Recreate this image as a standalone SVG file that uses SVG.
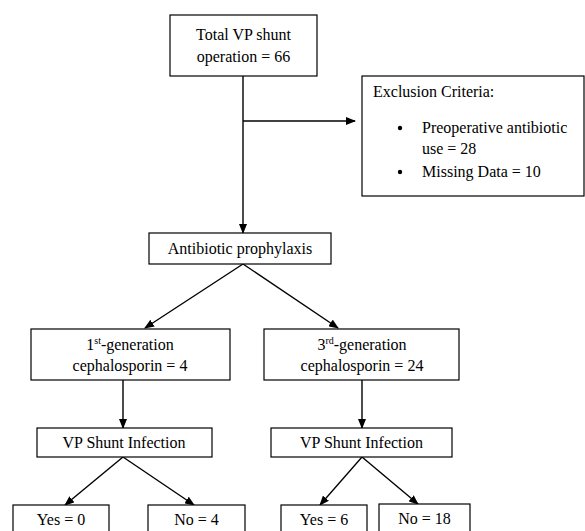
<svg xmlns="http://www.w3.org/2000/svg" width="585" height="531" viewBox="0 0 585 531">
<style>
  .box{fill:#fff;stroke:#000;stroke-width:1.2}
  .t{font-family:"Liberation Serif","Times New Roman",serif;font-size:16px;fill:#000}
  .c{text-anchor:middle}
  .con{stroke:#000;stroke-width:1.4;fill:none}
</style>
<defs>
  <marker id="ah" markerUnits="userSpaceOnUse" markerWidth="10" markerHeight="8" refX="9" refY="4" orient="auto">
    <path d="M0,0 L10,4 L0,8 Z" fill="#000"/>
  </marker>
</defs>
<rect width="585" height="531" fill="#fff"/>
<g id="connectors">
  <line class="con" x1="243" y1="76" x2="243" y2="233" marker-end="url(#ah)"/>
  <line class="con" x1="243" y1="121" x2="355" y2="121" marker-end="url(#ah)"/>
  <line class="con" x1="243" y1="264" x2="145" y2="328" marker-end="url(#ah)"/>
  <line class="con" x1="243" y1="264" x2="338" y2="328" marker-end="url(#ah)"/>
  <line class="con" x1="123" y1="380" x2="123" y2="428" marker-end="url(#ah)"/>
  <line class="con" x1="362" y1="380" x2="362" y2="428" marker-end="url(#ah)"/>
  <line class="con" x1="123" y1="457" x2="65" y2="505" marker-end="url(#ah)"/>
  <line class="con" x1="123" y1="457" x2="194" y2="505" marker-end="url(#ah)"/>
  <line class="con" x1="362" y1="457" x2="320" y2="505" marker-end="url(#ah)"/>
  <line class="con" x1="362" y1="457" x2="418" y2="504" marker-end="url(#ah)"/>
</g>
<g id="total">
  <rect class="box" x="170" y="15" width="147" height="61"/>
  <text class="t c" x="243.5" y="40">Total VP shunt</text>
  <text class="t c" x="243.5" y="62">operation = 66</text>
</g>
<g id="exclusion">
  <rect class="box" x="362" y="76" width="222" height="120"/>
  <text class="t" x="373" y="97">Exclusion Criteria:</text>
  <circle cx="400" cy="128" r="2.2" fill="#000"/>
  <text class="t" x="422" y="133">Preoperative antibiotic</text>
  <text class="t" x="422" y="154">use = 28</text>
  <circle cx="400" cy="172" r="2.2" fill="#000"/>
  <text class="t" x="422" y="177">Missing Data = 10</text>
</g>
<g id="prophylaxis">
  <rect class="box" x="149" y="233" width="182" height="31"/>
  <text class="t c" x="240" y="254">Antibiotic prophylaxis</text>
</g>
<g id="gen1">
  <rect class="box" x="31" y="329" width="199" height="51"/>
  <text class="t c" x="130" y="350">1<tspan font-size="10" dy="-6">st</tspan><tspan dy="6">-generation</tspan></text>
  <text class="t c" x="130" y="371">cephalosporin = 4</text>
</g>
<g id="gen3">
  <rect class="box" x="264" y="329" width="195" height="51"/>
  <text class="t c" x="362" y="350">3<tspan font-size="10" dy="-6">rd</tspan><tspan dy="6">-generation</tspan></text>
  <text class="t c" x="362" y="371">cephalosporin = 24</text>
</g>
<g id="vp1">
  <rect class="box" x="37" y="428" width="175" height="29"/>
  <text class="t c" x="124" y="448">VP Shunt Infection</text>
</g>
<g id="vp2">
  <rect class="box" x="271" y="428" width="181" height="29"/>
  <text class="t c" x="361.5" y="448">VP Shunt Infection</text>
</g>
<g id="yes0">
  <rect class="box" x="13" y="505" width="96" height="40"/>
  <text class="t c" x="61" y="525">Yes = 0</text>
</g>
<g id="no4">
  <rect class="box" x="148" y="505" width="97" height="40"/>
  <text class="t c" x="196.5" y="525">No = 4</text>
</g>
<g id="yes6">
  <rect class="box" x="281" y="505" width="86" height="40"/>
  <text class="t c" x="324" y="525">Yes = 6</text>
</g>
<g id="no18">
  <rect class="box" x="379" y="504" width="91" height="40"/>
  <text class="t c" x="424.5" y="524">No = 18</text>
</g>
</svg>
